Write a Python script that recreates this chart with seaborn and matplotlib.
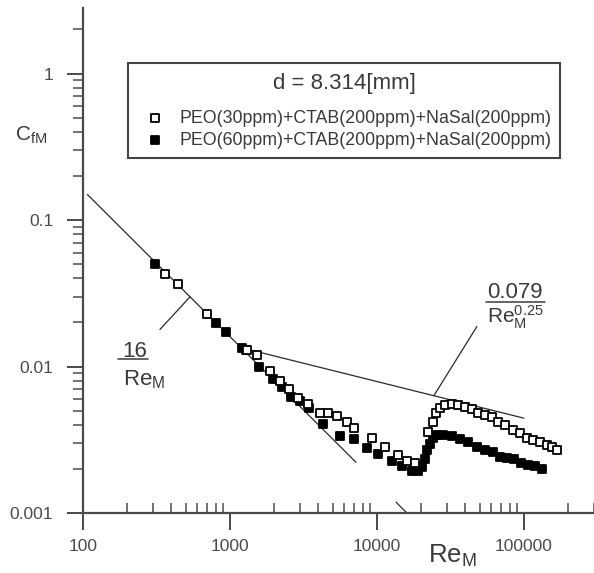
import numpy as np
import pandas as pd
import matplotlib
matplotlib.use("Agg")
import matplotlib.pyplot as plt
import matplotlib.ticker as mticker
import seaborn as sns

# ---------------- data ----------------
re_peo30 = [361, 443, 698, 1306, 1528, 1871, 2188, 2518, 2901, 3396, 4095, 4643,
            5346, 6252, 6977, 9253, 11330, 13890, 16000, 18130, 22230, 24040,
            25200, 26800, 29000, 32400, 35600, 39700, 44300, 48600, 54300, 60600,
            66500, 74300, 84200, 93900, 104800, 115100, 128500, 143300, 155000, 167600]
cf_peo30 = [0.0431, 0.0363, 0.0230, 0.01306, 0.01189, 0.00925, 0.00790, 0.00697,
            0.00614, 0.00559, 0.00485, 0.00485, 0.00456, 0.00415, 0.00383, 0.00327,
            0.00280, 0.00247, 0.00228, 0.00221, 0.00360, 0.00421, 0.00478, 0.00517,
            0.00542, 0.00559, 0.00550, 0.00533, 0.00509, 0.00485, 0.00470, 0.00449,
            0.00421, 0.00396, 0.00366, 0.00349, 0.00327, 0.00313, 0.00303, 0.00289,
            0.00284, 0.00271]

re_peo60 = [309, 804, 940, 1208, 1286, 1574, 1962, 2261, 2603, 2995, 3447, 4295,
            5602, 6977, 8550, 10170, 12650, 14790, 17300, 19000, 20240, 21210,
            21880, 22940, 24040, 25600, 28100, 32400, 36700, 41600, 47900, 54300,
            61500, 68700, 76600, 85500, 95500, 106400, 118900, 132500]
cf_peo60 = [0.0497, 0.0197, 0.0171, 0.0133, 0.01286, 0.0100, 0.00828, 0.00719,
            0.00624, 0.00577, 0.00517, 0.00402, 0.00338, 0.00318, 0.00276, 0.00251,
            0.00225, 0.00208, 0.00195, 0.00192, 0.00205, 0.00232, 0.00271, 0.00294,
            0.00323, 0.00343, 0.00343, 0.00333, 0.00318, 0.00303, 0.00284, 0.00271,
            0.00259, 0.00243, 0.00239, 0.00232, 0.00221, 0.00214, 0.00208, 0.00201]

# theory lines (end points)
re_lam = [107, 7200]
cf_lam = [0.1495, 0.00222]
re_lam_b = [13500, 16000]
cf_lam_b = [0.001185, 0.001]
re_blasius = [1170, 100000]
cf_blasius = [0.0135, 0.00444]

label_30 = "PEO(30ppm)+CTAB(200ppm)+NaSal(200ppm)"
label_60 = "PEO(60ppm)+CTAB(200ppm)+NaSal(200ppm)"
legend_title = "d = 8.314[mm]"

x_major = [100, 1000, 10000, 100000]
x_major_labels = ["100", "1000", "10000", "100000"]
y_major = [0.001, 0.01, 0.1, 1]
y_major_labels = ["0.001", "0.01", "0.1", "1"]

# ---------------- style ----------------
sns.set_style("ticks")
plt.rcParams["font.family"] = ["Liberation Sans", "DejaVu Sans"]
plt.rcParams["mathtext.fontset"] = "custom"
plt.rcParams["mathtext.rm"] = "Liberation Sans"
plt.rcParams["mathtext.it"] = "Liberation Sans:italic"
plt.rcParams["mathtext.bf"] = "Liberation Sans:bold"

axis_col = "#4a4a4a"
line_col = "#2a2a2a"
text_col = "#3a3a3a"

fig = plt.figure(figsize=(5.94, 5.73), dpi=100)
ax = fig.add_axes([83 / 594, 60 / 573, 511 / 594, 505 / 573])
ax.set_xscale("log")
ax.set_yscale("log")

df30 = pd.DataFrame({"Re": re_peo30, "cf": cf_peo30})
df60 = pd.DataFrame({"Re": re_peo60, "cf": cf_peo60})

# theory lines
for rx, cy in [(re_lam, cf_lam), (re_lam_b, cf_lam_b), (re_blasius, cf_blasius)]:
    sns.lineplot(x=rx, y=cy, ax=ax, color=line_col, linewidth=0.9,
                 estimator=None, sort=False, zorder=2)

sns.scatterplot(data=df60, x="Re", y="cf", ax=ax, marker="s", s=30,
                color="black", edgecolor="black", linewidth=1.3,
                label=label_60, zorder=3)
sns.scatterplot(data=df30, x="Re", y="cf", ax=ax, marker="s", s=30,
                color="white", edgecolor="black", linewidth=1.3,
                label=label_30, zorder=4)

ax.set_xlim(100, 3.0e5)
ax.set_ylim(0.001, 2.8)

# ticks
ax.xaxis.set_major_locator(mticker.FixedLocator(x_major))
ax.xaxis.set_major_formatter(mticker.FixedFormatter(x_major_labels))
ax.xaxis.set_minor_locator(mticker.LogLocator(base=10, subs=np.arange(2, 10), numticks=20))
ax.xaxis.set_minor_formatter(mticker.NullFormatter())
ax.yaxis.set_major_locator(mticker.FixedLocator(y_major))
ax.yaxis.set_major_formatter(mticker.FixedFormatter(y_major_labels))
ax.yaxis.set_minor_locator(mticker.LogLocator(base=10, subs=np.arange(2, 10), numticks=20))
ax.yaxis.set_minor_formatter(mticker.NullFormatter())

ax.tick_params(axis="x", which="major", direction="out", length=12, width=1.4,
               pad=6.5, labelsize=12.5, labelcolor="#4a4a4a", color=axis_col)
ax.tick_params(axis="x", which="minor", direction="in", length=7, width=1.1, color=axis_col)
ax.tick_params(axis="y", which="major", direction="out", length=11.5, width=1.4,
               pad=10, labelsize=12.5, labelcolor="#4a4a4a", color=axis_col)
ax.tick_params(axis="y", which="minor", direction="out", length=7, width=1.1, color=axis_col)

sns.despine(ax=ax)
for side in ["left", "bottom"]:
    ax.spines[side].set_color(axis_col)
    ax.spines[side].set_linewidth(1.6)

# axis labels
ax.set_xlabel(r"$\mathregular{Re_M}$", fontsize=18.5, color=text_col, ha="left", va="baseline")
ax.xaxis.set_label_coords((428 - 83) / 511, (513 - 563) / 505)
ax.set_ylabel(r"$\mathregular{C_{fM}}$", fontsize=15, color=text_col, rotation=0,
              ha="left", va="baseline")
ax.yaxis.set_label_coords((15 - 83) / 511, (513 - 141) / 505)

# legend
handles, labels = ax.get_legend_handles_labels()
order = [labels.index(label_30), labels.index(label_60)]
leg = ax.legend([handles[i] for i in order], [labels[i] for i in order],
                title=legend_title, title_fontsize=16, fontsize=12.75,
                loc="upper left",
                bbox_to_anchor=((128 - 83) / 511, (513 - 155) / 505, (560 - 128) / 511, (155 - 63) / 505),
                mode="expand", borderaxespad=0, fancybox=False, framealpha=1,
                edgecolor="#444444", labelspacing=0.28, handlelength=2.0,
                handletextpad=0.35, borderpad=0.55)
leg.get_frame().set_linewidth(1.5)
for t in leg.get_texts():
    t.set_color(text_col)
leg.get_title().set_color(text_col)
try:
    leg._legend_box.sep = 11.5
except Exception:
    pass

# formula annotations
tr = ax.transAxes
ax.text((135 - 83) / 511, (513 - 357) / 505, "16", transform=tr, fontsize=16,
        ha="center", va="baseline", color=text_col)
ax.plot([(118 - 83) / 511, (148 - 83) / 511], [(513 - 359) / 505] * 2, transform=tr,
        color=text_col, lw=1.1, clip_on=False)
ax.text((123 - 83) / 511, (513 - 385) / 505, r"$\mathregular{Re_M}$", transform=tr,
        fontsize=16, ha="left", va="baseline", color=text_col)

ax.text((514.5 - 83) / 511, (513 - 298) / 505, "0.079", transform=tr, fontsize=16,
        ha="center", va="baseline", color=text_col)
ax.plot([(486 - 83) / 511, (545 - 83) / 511], [(513 - 302) / 505] * 2, transform=tr,
        color=text_col, lw=1.1, clip_on=False)
ax.text((487 - 83) / 511, (513 - 323) / 505, r"$\mathregular{Re_M^{0.25}}$", transform=tr,
        fontsize=15, ha="left", va="baseline", color=text_col)

# leader lines
ax.annotate("", xy=(535, 0.0299), xytext=(334, 0.0179),
            arrowprops=dict(arrowstyle="-", color=line_col, lw=0.9, shrinkA=0, shrinkB=0))
ax.annotate("", xy=(24400, 0.00632), xytext=(47900, 0.01875),
            arrowprops=dict(arrowstyle="-", color=line_col, lw=0.9, shrinkA=0, shrinkB=0))

fig.savefig("out.png", dpi=100)
